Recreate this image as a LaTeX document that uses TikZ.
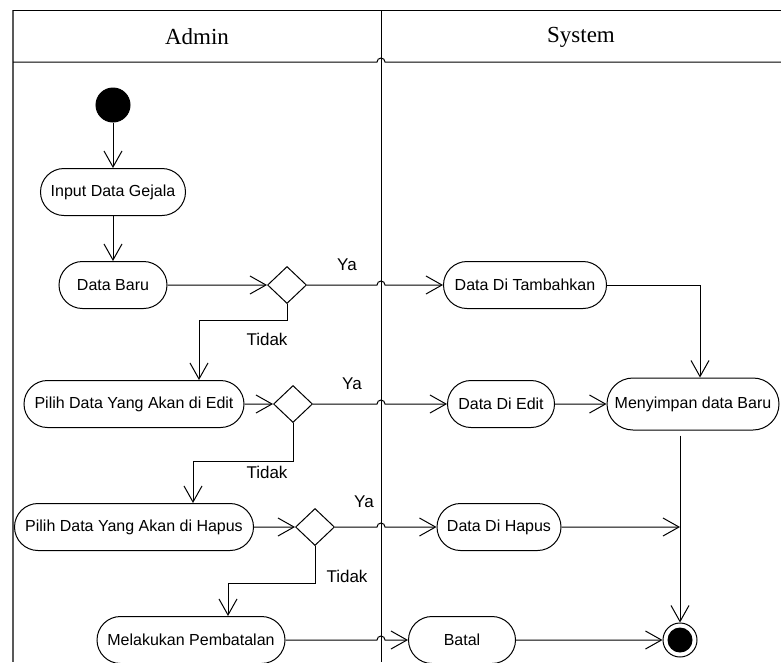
\documentclass[tikz,border=0pt]{standalone}
\usepackage{fontspec}
\setmainfont{Liberation Sans}
\newfontfamily\lanefont{Liberation Serif}
\usetikzlibrary{shapes.misc,shapes.geometric,arrows.meta,calc}

\begin{document}
\begin{tikzpicture}[x=1pt,y=-1pt,line width=1pt,
  act/.style={draw,rounded rectangle,minimum height=47pt,inner sep=0pt,font=\fontsize{16}{19}\selectfont},
  cond/.style={draw,diamond,minimum width=39pt,minimum height=37pt,inner sep=0pt},
  flow/.style={-{Straight Barb[length=16pt,width=18pt]}},
  lbl/.style={font=\fontsize{17}{20}\selectfont},
  lanetitle/.style={font=\lanefont\fontsize{23}{27}\selectfont}]
\useasboundingbox (0,0) rectangle (781,662);

% swimlanes
\coordinate (sep) at (381,62);
\draw[line width=1.5pt,black!65] (13,10) -- (13,662);
\draw (13,10) -- (781,10);
\draw (sep |- 0,10) -- (sep |- 0,662);
\draw (13,62) -- ($(sep)+(-4,0)$) arc[start angle=180,end angle=0,radius=4pt] -- (781,62);
\node[lanetitle] (admin) at (197,37) {Admin};
\node[lanetitle] (system) at (581,37) {System};

% admin
\node[draw,circle,fill,minimum size=34pt,inner sep=0pt] (start) at (113,105) {};
\node[act,minimum width=145pt] (gejala) at (113,192) {Input Data Gejala};
\node[act,minimum width=108pt] (baru) at (113,285) {Data Baru};
\node[cond] (d1) at (287,285) {};
\node[act,minimum width=220pt] (edit) at (134,404) {Pilih Data Yang Akan di Edit};
\node[cond] (d2) at (293,404) {};
\node[act,minimum width=239pt] (hapus) at (134,527) {Pilih Data Yang Akan di Hapus};
\node[cond] (d3) at (315,527) {};
\node[act,minimum width=188pt] (batalkan) at (191,640) {Melakukan Pembatalan};

% system
\node[act,minimum width=163pt] (tambah) at (525,285) {Data Di Tambahkan};
\node[act,minimum width=107pt] (diedit) at (501,404) {Data Di Edit};
\node[act,minimum width=172pt,minimum height=52pt] (simpan) at (693,404) {Menyimpan data Baru};
\node[act,minimum width=124pt] (dihapus) at (499,527) {Data Di Hapus};
\node[act,minimum width=107pt] (batal) at (462,640) {Batal};
\node[draw,circle,minimum size=34pt,inner sep=0pt,
  path picture={\fill (path picture bounding box.center) circle (12.5pt);}] (final) at (680,640) {};

% labels
\node[lbl] (ya1) at (347,265) {Ya};
\node[lbl] (ya2) at (352,384) {Ya};
\node[lbl] (ya3) at (364,502) {Ya};
\node[lbl] (tidak1) at (267,339) {Tidak};
\node[lbl] (tidak2) at (267,472) {Tidak};
\node[lbl] (tidak3) at (347,576) {Tidak};

\draw[flow] (start) -- (gejala);
\draw[flow] (gejala) -- (baru);
\draw[flow] (baru) -- (d1);
\draw[flow] (edit) -- (d2);
\draw[flow] (hapus) -- (d3);

\foreach \src/\dst in {d1/tambah,d2/diedit,d3/dihapus,batalkan/batal}
  \draw[flow] (\src.east) -- ($(\src.east -| sep)+(-4,0)$)
    arc[start angle=180,end angle=0,radius=4pt] -- (\dst);

\coordinate (k1) at (199,320);
\coordinate (k2) at (193,461);
\coordinate (k3) at (228,583);
\draw[flow] (d1.south) |- (k1) -- (k1 |- edit.north);
\draw[flow] (d2.south) |- (k2) -- (k2 |- hapus.north);
\draw[flow] (d3.south) |- (k3) -- (k3 |- batalkan.north);

\draw[flow] (tambah.east) -| ([xshift=7pt]simpan.north);
\draw[flow] (diedit) -- (simpan);
\coordinate (merge) at (final |- dihapus);
\draw[flow] (dihapus) -- (merge);
\draw[flow,shorten <=5pt] (simpan.south -| final) -- (final);
\draw[flow] (batal) -- (final);
\end{tikzpicture}
\end{document}
